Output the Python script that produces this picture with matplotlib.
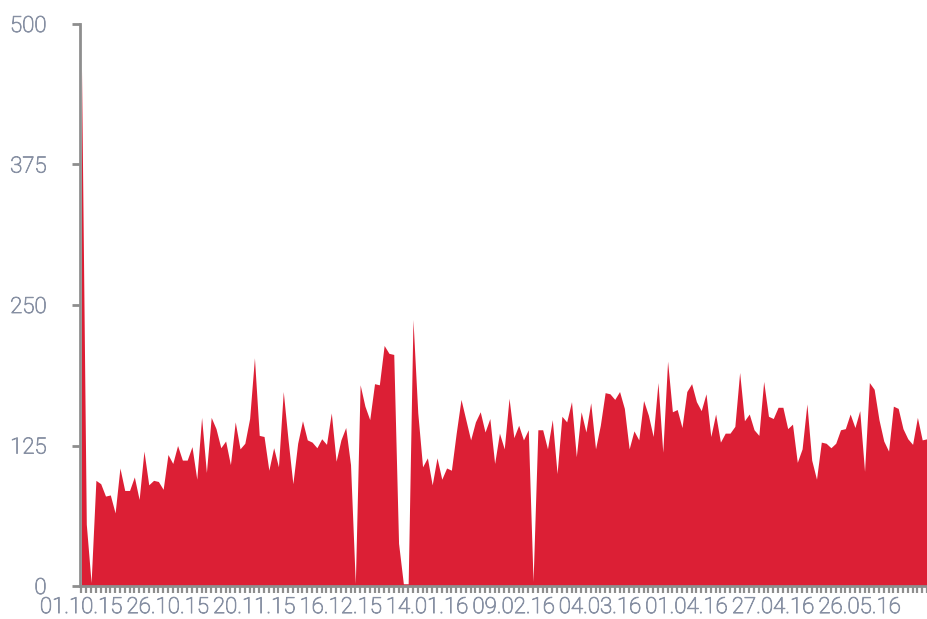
import matplotlib
matplotlib.use('Agg')
import matplotlib.pyplot as plt
import matplotlib.patheffects as pe
import numpy as np

# daily values (one point per trading day, starting 01.10.15)
values = [
    460, 55, 3, 94, 91, 80, 81, 65, 105, 85,
    85, 97, 77, 120, 90, 94, 93, 86, 117, 109,
    125, 112, 112, 124, 95, 150, 101, 150, 140, 123,
    129, 108, 146, 122, 127, 149, 203, 134, 133, 103,
    123, 106, 173, 130, 91, 127, 147, 130, 128, 123,
    131, 126, 154, 111, 130, 141, 108, 2, 179, 160,
    148, 180, 179, 214, 207, 206, 38, 2, 2, 237,
    154, 106, 114, 90, 114, 95, 105, 103, 136, 166,
    148, 130, 146, 155, 137, 149, 109, 136, 122, 167,
    132, 143, 130, 139, 4, 139, 139, 122, 148, 100,
    151, 146, 164, 115, 155, 137, 163, 122, 143, 172,
    171, 166, 173, 158, 122, 138, 130, 165, 152, 133,
    181, 119, 200, 155, 157, 141, 173, 180, 164, 156,
    171, 133, 153, 128, 136, 136, 142, 190, 147, 153,
    139, 134, 182, 151, 149, 159, 159, 140, 144, 110,
    122, 162, 112, 95, 128, 127, 123, 127, 139, 140,
    153, 141, 156, 102, 181, 175, 148, 129, 120, 160,
    158, 140, 131, 126, 150, 130, 131,
]

# date labels, one every 18 points
date_labels = ['01.10.15', '26.10.15', '20.11.15', '16.12.15', '14.01.16',
               '09.02.16', '04.03.16', '01.04.16', '27.04.16', '26.05.16']
label_step = 18

y_ticks = [0, 125, 250, 375, 500]

fill_color = '#dc1f35'
axis_color = '#8e8e8e'
text_color = '#8790a3'

plt.rcParams['font.family'] = ['Roboto', 'DejaVu Sans']

fig = plt.figure(figsize=(9.27, 6.19), dpi=100)
ax = fig.add_axes([80 / 927, 33 / 619, 847 / 927, 562 / 619])

x = np.arange(len(values))
ax.fill_between(x, values, 0, color=fill_color, linewidth=0, zorder=1)

# first point sits a pixel or so right of the y axis, last one runs off the edge
ax.set_xlim(-0.31, 175.56)
ax.set_ylim(0, 500)

# every point gets a tick, only every 18th a label
labels = [''] * len(values)
for i, lbl in enumerate(date_labels):
    labels[i * label_step] = lbl
ax.set_xticks(x)
ax.set_xticklabels(labels)
ax.set_yticks(y_ticks)
ax.set_yticklabels([str(v) for v in y_ticks])

for side in ['top', 'right']:
    ax.spines[side].set_visible(False)
for side in ['left', 'bottom']:
    ax.spines[side].set_color(axis_color)
    ax.spines[side].set_linewidth(2.0)

ax.tick_params(axis='x', length=5, width=1.6, color=axis_color,
               labelsize=16, labelcolor=text_color, pad=3)
ax.tick_params(axis='y', length=6, width=2, color=axis_color,
               labelsize=16, labelcolor=text_color, pad=18)
# light font, thickened a little so it reads like the original
for t in ax.get_xticklabels() + ax.get_yticklabels():
    t.set_fontweight('light')
    t.set_path_effects([pe.withStroke(linewidth=0.6, foreground=text_color)])

fig.savefig('out.png', dpi=100)
plt.close(fig)
